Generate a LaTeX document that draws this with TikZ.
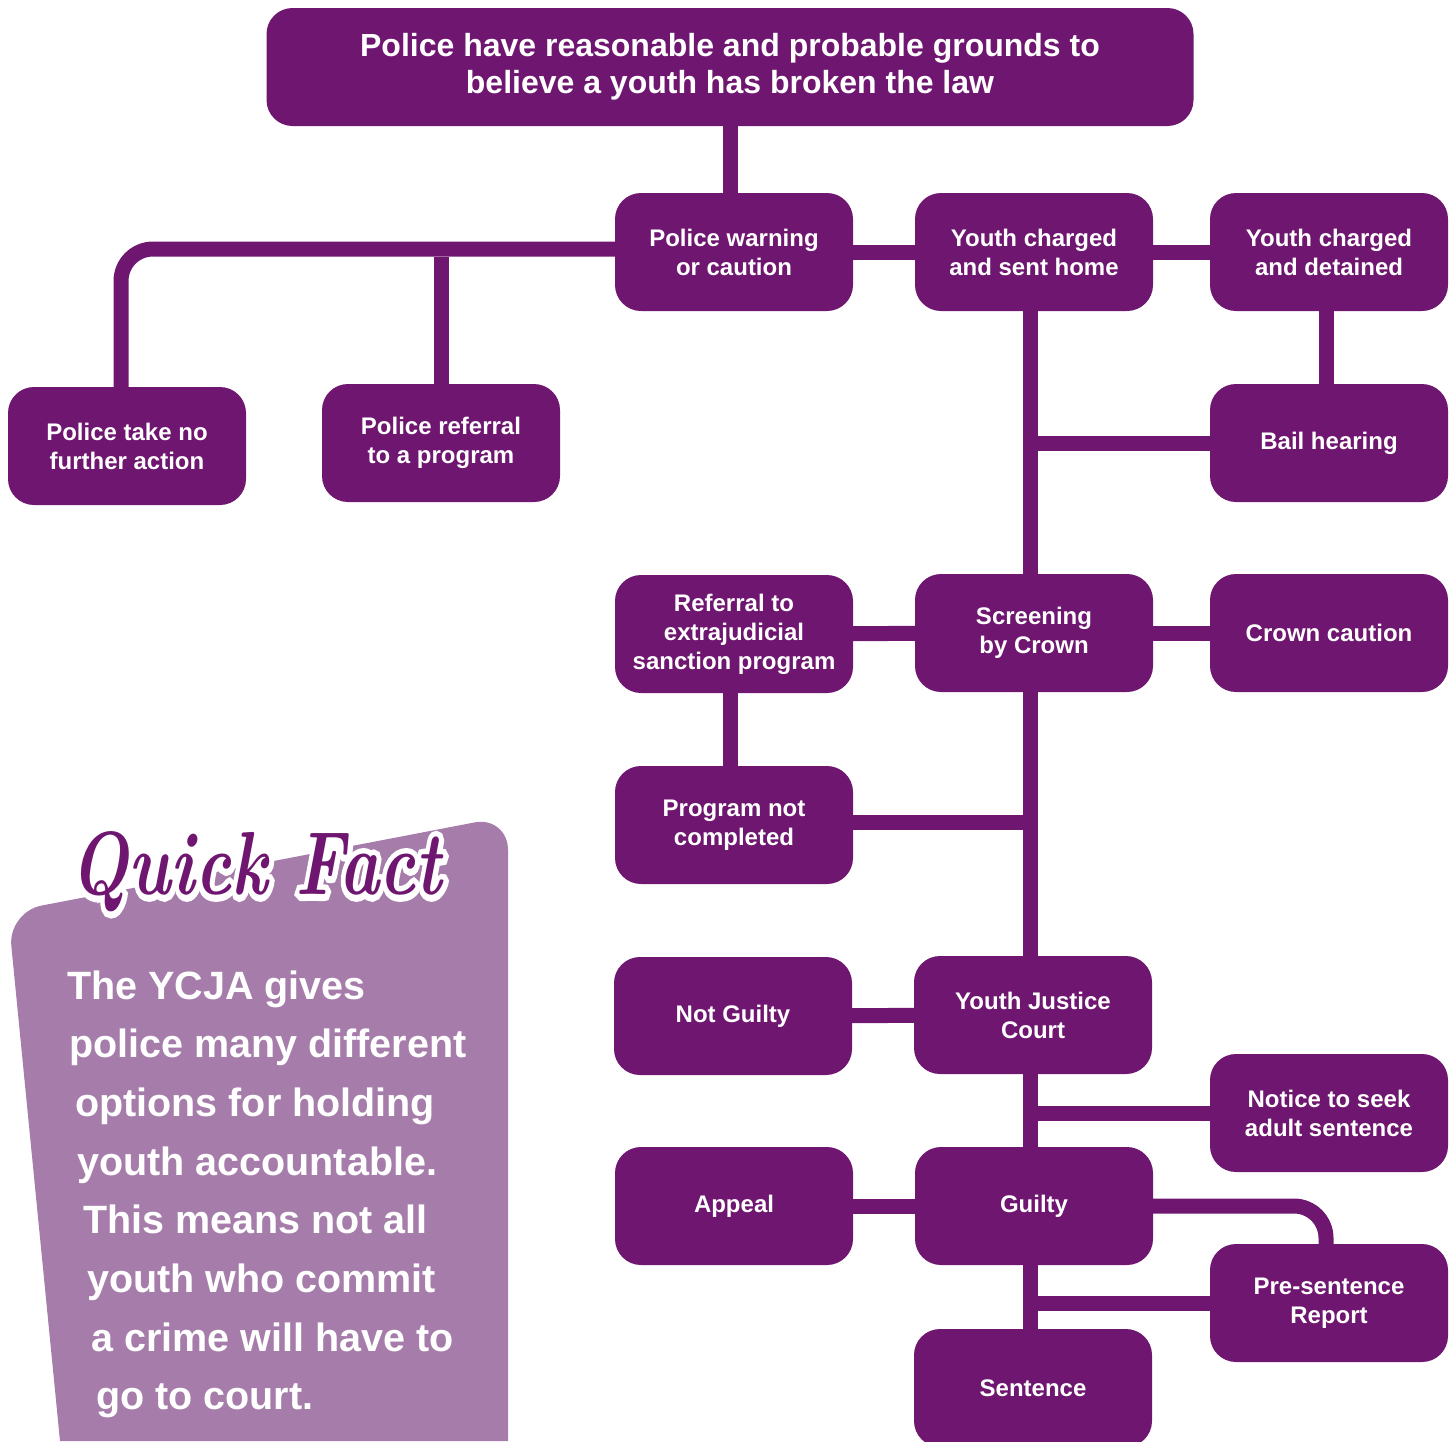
\documentclass[tikz,border=0pt]{standalone}
\usepackage{fontspec}
\setmainfont{Liberation Sans}
\newfontfamily\quickfont{Latin Modern Roman}
\newfontfamily\quickhalo[FakeBold=14]{Latin Modern Roman}
\usetikzlibrary{positioning, backgrounds}

\definecolor{ycjapurple}{HTML}{6F1670}
\definecolor{factlilac}{HTML}{A67DAA}

\begin{document}
\begin{tikzpicture}[
    x=1pt, y=-1pt,
    stepbox/.style={rectangle, rounded corners=26pt, fill=ycjapurple, text=white, align=center,
        minimum width=238pt, minimum height=118pt, inner sep=4pt,
        font=\fontsize{24}{29}\selectfont\bfseries},
    link/.style={draw=ycjapurple, line width=15pt},
    facttext/.style={anchor=base west, text=white, inner sep=0pt, font=\fontsize{39.5}{46}\selectfont\bfseries},
    qftitle/.style={inner sep=0pt, xscale=0.85, yscale=1.12, font=\fontsize{80}{80}\selectfont}
]
\useasboundingbox (0,0) rectangle (1456,1441);

% Top of the chart
\node[stepbox, minimum width=927pt, font=\fontsize{32}{37}\selectfont\bfseries] (grounds) at (730,67)
    {Police have reasonable and probable grounds to\\believe a youth has broken the law};

% First row
\node[stepbox] (warning) at (734,252) {Police warning\\or caution};
\node[stepbox] (senthome) at (1034,252) {Youth charged\\and sent home};
\node[stepbox] (detained) at (1329,252) {Youth charged\\and detained};

% Police options
\node[stepbox] (noaction) at (127,446) {Police take no\\further action};
\node[stepbox] (referral) at (441,443) {Police referral\\to a program};
\node[stepbox] (bail) at (1329,443) {Bail hearing};

% Crown screening
\node[stepbox] (extrajud) at (734,634) {Referral to\\extrajudicial\\sanction program};
\node[stepbox] (screening) at (1034,633) {Screening\\by Crown};
\node[stepbox] (crowncaution) at (1329,633) {Crown caution};
\node[stepbox] (notdone) at (734,825) {Program not\\completed};

% Court
\node[stepbox] (notguilty) at (733,1016) {Not Guilty};
\node[stepbox] (court) at (1033,1015) {Youth Justice\\Court};
\node[stepbox] (adultnotice) at (1329,1113) {Notice to seek\\adult sentence};
\node[stepbox] (appeal) at (734,1206) {Appeal};
\node[stepbox] (guilty) at (1034,1206) {Guilty};
\node[stepbox] (presentence) at (1329,1303) {Pre-sentence\\Report};
\node[stepbox] (sentence) at (1033,1388) {Sentence};

% Connectors behind the boxes
\begin{scope}[on background layer]
\draw[link] (grounds.south -| 730,0) -- (warning.north -| 730,0);
\draw[link] (warning) -- (senthome);
\draw[link] (senthome) -- (detained);
\draw[link, rounded corners=32pt] (warning.west |- 0,249) -| (noaction.north -| 121,0);
\draw[link] (referral.north |- 0,257) -- (referral.north);
\draw[link] (senthome.south -| 1030,0) -- (screening.north -| 1030,0);
\draw[link] (detained.south -| 1326,0) -- (bail.north -| 1326,0);
\draw[link] (bail.west) -- (bail.west -| 1030,0);
\draw[link] (extrajud) -- (screening);
\draw[link] (screening) -- (crowncaution);
\draw[link] (extrajud.south -| 730,0) -- (notdone.north -| 730,0);
\draw[link] (notdone.east |- 0,822) -- (1030,822);
\draw[link] (screening.south -| 1030,0) -- (court.north -| 1030,0);
\draw[link] (notguilty) -- (court);
\draw[link] (court.south -| 1030,0) -- (guilty.north -| 1030,0);
\draw[link] (adultnotice.west) -- (adultnotice.west -| 1030,0);
\draw[link] (appeal) -- (guilty);
\draw[link, rounded corners=32pt] (guilty.east) -| (presentence.north -| 1326,0);
\draw[link] (guilty.south -| 1030,0) -- (sentence.north -| 1030,0);
\draw[link] (presentence.west) -- (presentence.west -| 1030,0);

% Quick Fact panel
\fill[factlilac] (60,1441) [rounded corners=34pt] -- (8,912) -- (508,816) -- (508,900)
    [sharp corners] -- (508,1441) -- cycle;
\end{scope}

% white rim under the title
\node[qftitle, text=white, font=\fontsize{80}{80}\quickhalo\bfseries\itshape] (qfhalo) at (256,872) {Quick Fact};
\node[qftitle, text=ycjapurple, font=\fontsize{80}{80}\quickfont\bfseries\itshape] (qftitle) at (256,872) {Quick Fact};

\foreach \x/\y/\line [count=\i] in {
    67/999/The YCJA gives,
    69/1057/police many different,
    75/1116/options for holding,
    77/1175/youth accountable.,
    83/1233/This means not all,
    87/1292/youth who commit,
    91/1351/a crime will have to,
    96/1409/go to court.} {
    \node[facttext] (fact\i) at (\x,\y) {\line};
}

\end{tikzpicture}
\end{document}
